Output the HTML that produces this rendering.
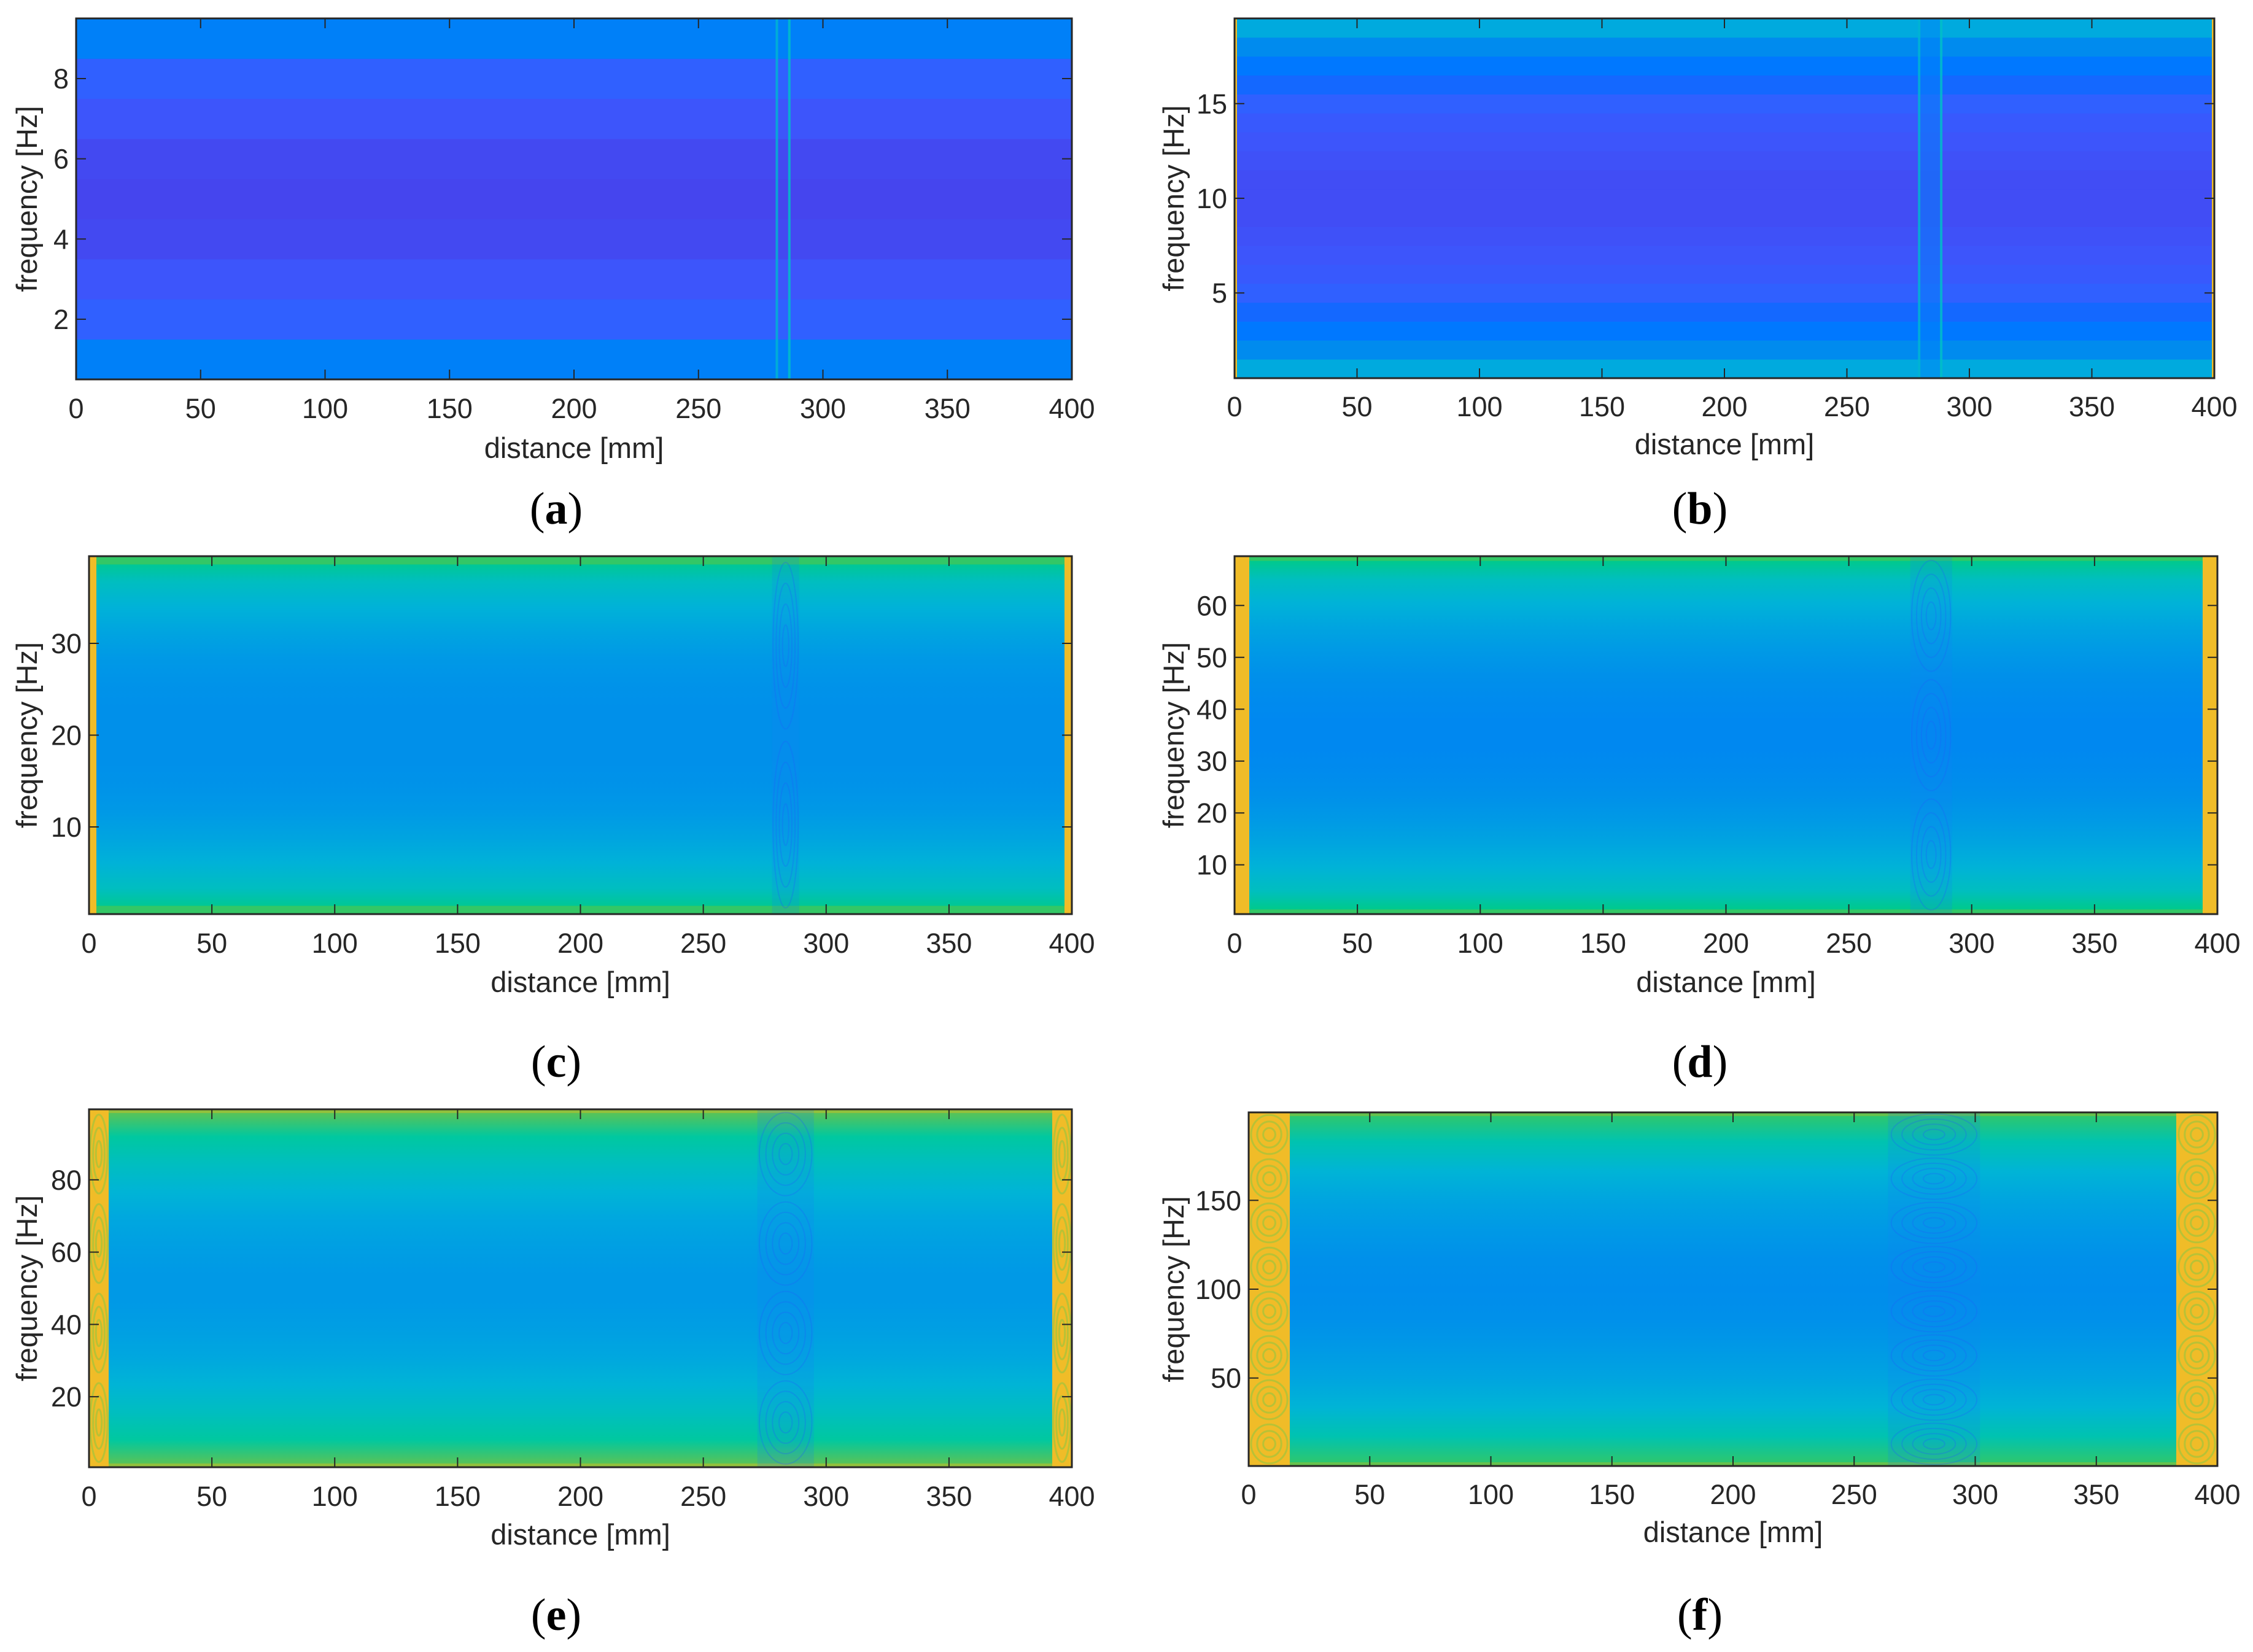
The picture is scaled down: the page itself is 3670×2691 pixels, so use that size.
<!DOCTYPE html>
<html>
<head>
<meta charset="utf-8">
<style>
html,body{margin:0;padding:0;background:#fff;}
svg{display:block;}
text{font-family:"Liberation Sans",sans-serif;fill:#262626;}
.pl{font-family:"Liberation Serif",serif;fill:#000;}
</style>
</head>
<body>
<svg id="fig" width="3670" height="2691" viewBox="0 0 3670 2691" xmlns="http://www.w3.org/2000/svg"></svg>
<script>
// ---- data (row values in colormap units, ascending frequency) ----
const panelIds = ['a','b','c','d','e','f'];
const freqMax = [9, 19, 39, 69, 99, 199];
const rowsA = [0.27,0.17,0.12,0.09,0.08,0.09,0.12,0.17,0.27];
const rowsB = [0.42,0.31,0.24,0.20,0.17,0.14,0.12,0.11,0.10,0.10,0.10,0.11,0.12,0.14,0.17,0.20,0.24,0.31,0.42];
const rowsC = [0.62,0.52,0.45,0.40,0.36,0.34,0.33,0.33,0.33,0.34,0.36,0.40,0.45,0.52,0.62];
const rowsD = [0.62,0.52,0.45,0.40,0.36,0.33,0.31,0.30,0.30,0.31,0.33,0.36,0.40,0.45,0.52,0.62];
const rowsE = [0.70,0.58,0.52,0.46,0.41,0.38,0.36,0.36,0.38,0.41,0.46,0.52,0.58,0.70];
const rowsF = [0.66,0.55,0.46,0.40,0.36,0.33,0.32,0.33,0.36,0.40,0.46,0.55,0.66];
const edgeWidthMm = [0, 1, 3, 6, 8, 17];
const defectStartMm = [281, 279, 278, 275, 272, 264];
const defectEndMm = [287, 289, 289, 292, 295, 302];
const xTicks = [0,50,100,150,200,250,300,350,400];
const yTicksA = [2,4,6,8];
const yTicksB = [5,10,15];
const yTicksC = [10,20,30];
const yTicksD = [10,20,30,40,50,60];
const yTicksE = [20,40,60,80];
const yTicksF = [50,100,150];

const allRows = [rowsA,rowsB,rowsC,rowsD,rowsE,rowsF];
const allYTicks = [yTicksA,yTicksB,yTicksC,yTicksD,yTicksE,yTicksF];
const boxes = [
 {x0:124,x1:1746,y0:30,y1:618, tl:665, xl:730, lab:829, labx:906, ylx:44},
 {x0:2011,x1:3607,y0:30,y1:616, tl:662, xl:724, lab:829, labx:2769, ylx:1912},
 {x0:145,x1:1746,y0:906,y1:1489, tl:1536, xl:1600, lab:1730, labx:906, ylx:44},
 {x0:2011,x1:3612,y0:906,y1:1489, tl:1536, xl:1600, lab:1730, labx:2769, ylx:1912},
 {x0:145,x1:1746,y0:1807,y1:2390, tl:2437, xl:2500, lab:2631, labx:906, ylx:44},
 {x0:2034,x1:3612,y0:1812,y1:2388, tl:2434, xl:2496, lab:2631, labx:2769, ylx:1912}
];
const cmStops = [
 [0.00,[62,38,168]],[0.08,[69,69,238]],[0.12,[61,85,251]],[0.17,[48,96,255]],
 [0.20,[20,104,255]],[0.24,[0,120,255]],[0.30,[0,136,240]],[0.33,[0,144,234]],
 [0.37,[0,156,228]],[0.42,[0,170,222]],[0.46,[0,180,214]],[0.52,[0,190,192]],
 [0.58,[0,200,160]],[0.62,[0,204,128]],[0.72,[128,192,64]],[0.85,[245,190,45]],
 [0.95,[255,224,32]],[1.00,[249,251,14]]
];
function cmap(v){
  v=Math.max(0,Math.min(1,v));
  for(let i=1;i<cmStops.length;i++){
    if(v<=cmStops[i][0]){
      const a=cmStops[i-1],b=cmStops[i],t=(v-a[0])/(b[0]-a[0]);
      const c=a[1].map((q,k)=>Math.round(q+(b[1][k]-q)*t));
      return 'rgb('+c.join(',')+')';
    }
  }
  return 'rgb(249,251,14)';
}
const NS='http://www.w3.org/2000/svg';
const svg=document.getElementById('fig');
function mk(tag,attrs,parent){
  const e=document.createElementNS(NS,tag);
  for(const k in attrs) e.setAttribute(k,attrs[k]);
  (parent||svg).appendChild(e);
  return e;
}
const defs=mk('defs',{});

panelIds.forEach((id,p)=>{
  const b=boxes[p], rows=allRows[p], fmax=freqMax[p];
  const g=mk('g',{});
  
  
  const xs=v=>b.x0+(v/400)*(b.x1-b.x0);
  const ys=f=>b.y1-((f-0.5)/fmax)*(b.y1-b.y0);
  const hm=mk('g',{},g);
  
  
  const n=rows.length, W=b.x1-b.x0;
  if(p<2){
    rows.forEach((v,i)=>{
      const f0=0.5+i*fmax/n, f1=0.5+(i+1)*fmax/n;
      const r=mk('rect',{x:b.x0,y:ys(f1),width:W,height:ys(f0)-ys(f1)+0.5,fill:cmap(v)},hm);
      
      
    });
  } else {
    const gid='grad'+id;
    const lg=mk('linearGradient',{id:gid,x1:0,y1:0,x2:0,y2:1},defs);
    for(let i=n-1;i>=0;i--){
      mk('stop',{offset:1-i/(n-1),'stop-color':cmap(rows[i])},lg);
    }
    const r=mk('rect',{x:b.x0,y:b.y0,width:W,height:b.y1-b.y0,fill:'url(#'+gid+')'},hm);
    
    
    const edgeCol=cmap(rows[0]+0.04);
    const rh=Math.max(6,(b.y1-b.y0)/fmax*0.9);
    mk('rect',{x:b.x0,y:b.y0,width:W,height:rh,fill:edgeCol},hm);
    mk('rect',{x:b.x0,y:b.y1-rh,width:W,height:rh,fill:edgeCol},hm);
  }
  const dx0=xs(defectStartMm[p]), dx1=xs(defectEndMm[p]);
  const dg=mk('g',{},hm);
  
  
  if(p<2){
    mk('rect',{x:dx0,y:b.y0,width:4,height:b.y1-b.y0,fill:'rgb(0,180,210)',opacity:0.85},dg);
    mk('rect',{x:dx1-4,y:b.y0,width:4,height:b.y1-b.y0,fill:'rgb(0,190,200)',opacity:0.85},dg);
    if(p===1) mk('rect',{x:dx0+4,y:b.y0,width:dx1-dx0-8,height:b.y1-b.y0,fill:'rgb(0,130,250)',opacity:0.5},dg);
  } else {
    mk('rect',{x:dx0,y:b.y0,width:dx1-dx0,height:b.y1-b.y0,fill:'rgb(20,130,245)',opacity:0.2},dg);
    const cells=Math.max(2,Math.round(fmax/25));
    const ch=(b.y1-b.y0)/cells;
    for(let k=0;k<cells;k++){
      for(let r2=1;r2<=4;r2++){
        mk('ellipse',{cx:(dx0+dx1)/2,cy:b.y0+ch*(k+0.5),rx:(dx1-dx0)/2*r2/4.3,ry:ch/2*r2/4.3,fill:'none',stroke:'rgb(30,100,250)','stroke-width':2,opacity:0.3},dg);
      }
    }
  }
  const ew=edgeWidthMm[p];
  if(ew>0){
    [[0,ew],[400-ew,400]].forEach(([a,c],k)=>{
      const eg=mk('g',{},hm);
      
      
      const ex=xs(a), w=Math.max(3,xs(c)-xs(a));
      mk('rect',{x:ex,y:b.y0,width:w,height:b.y1-b.y0,fill:'rgb(240,188,40)'},eg);
      if(p>=4){
        const cells=Math.max(2,Math.round(fmax/25));
        const ch=(b.y1-b.y0)/cells;
        for(let q=0;q<cells;q++)for(let r2=1;r2<=3;r2++)
          mk('ellipse',{cx:ex+w/2,cy:b.y0+ch*(q+0.5),rx:w/2*r2/3.4,ry:ch/2*r2/3.4,fill:'none',stroke:'rgb(160,196,60)','stroke-width':3,opacity:0.7},eg);
      }
    });
  }
  const ax=mk('rect',{x:b.x0,y:b.y0,width:W,height:b.y1-b.y0,fill:'none',stroke:'#262626','stroke-width':3},g);
  
  
  xTicks.forEach(t=>{
    const x=xs(t);
    mk('line',{x1:x,y1:b.y1,x2:x,y2:b.y1-16,stroke:'#262626','stroke-width':2},g);
    mk('line',{x1:x,y1:b.y0,x2:x,y2:b.y0+16,stroke:'#262626','stroke-width':2},g);
    const tx=mk('text',{x:x,y:b.tl+16,'font-size':45,'text-anchor':'middle'},g);
    
    
    tx.textContent=t;
  });
  allYTicks[p].forEach(t=>{
    const y=ys(t);
    mk('line',{x1:b.x0,y1:y,x2:b.x0+16,y2:y,stroke:'#262626','stroke-width':2},g);
    mk('line',{x1:b.x1,y1:y,x2:b.x1-16,y2:y,stroke:'#262626','stroke-width':2},g);
    const tx=mk('text',{x:b.x0-12,y:y+16,'font-size':45,'text-anchor':'end'},g);
    
    
    tx.textContent=t;
  });
  const xl=mk('text',{x:(b.x0+b.x1)/2,y:b.xl+16,'font-size':47,'text-anchor':'middle'},g);
  
  
  xl.textContent='distance [mm]';
  const yc=(b.y0+b.y1)/2;
  const yl=mk('text',{x:b.ylx+16,y:yc,'font-size':47,'text-anchor':'middle',transform:'rotate(-90 '+(b.ylx+16)+' '+yc+')'},g);
  
  
  yl.textContent='frequency [Hz]';
  const pl=mk('text',{x:b.labx,y:b.lab+24,'font-size':74,'text-anchor':'middle',class:'pl'},g);
  
  
  pl.innerHTML='(<tspan font-weight="bold">'+id+'</tspan>)';
});
</script>
</body>
</html>
